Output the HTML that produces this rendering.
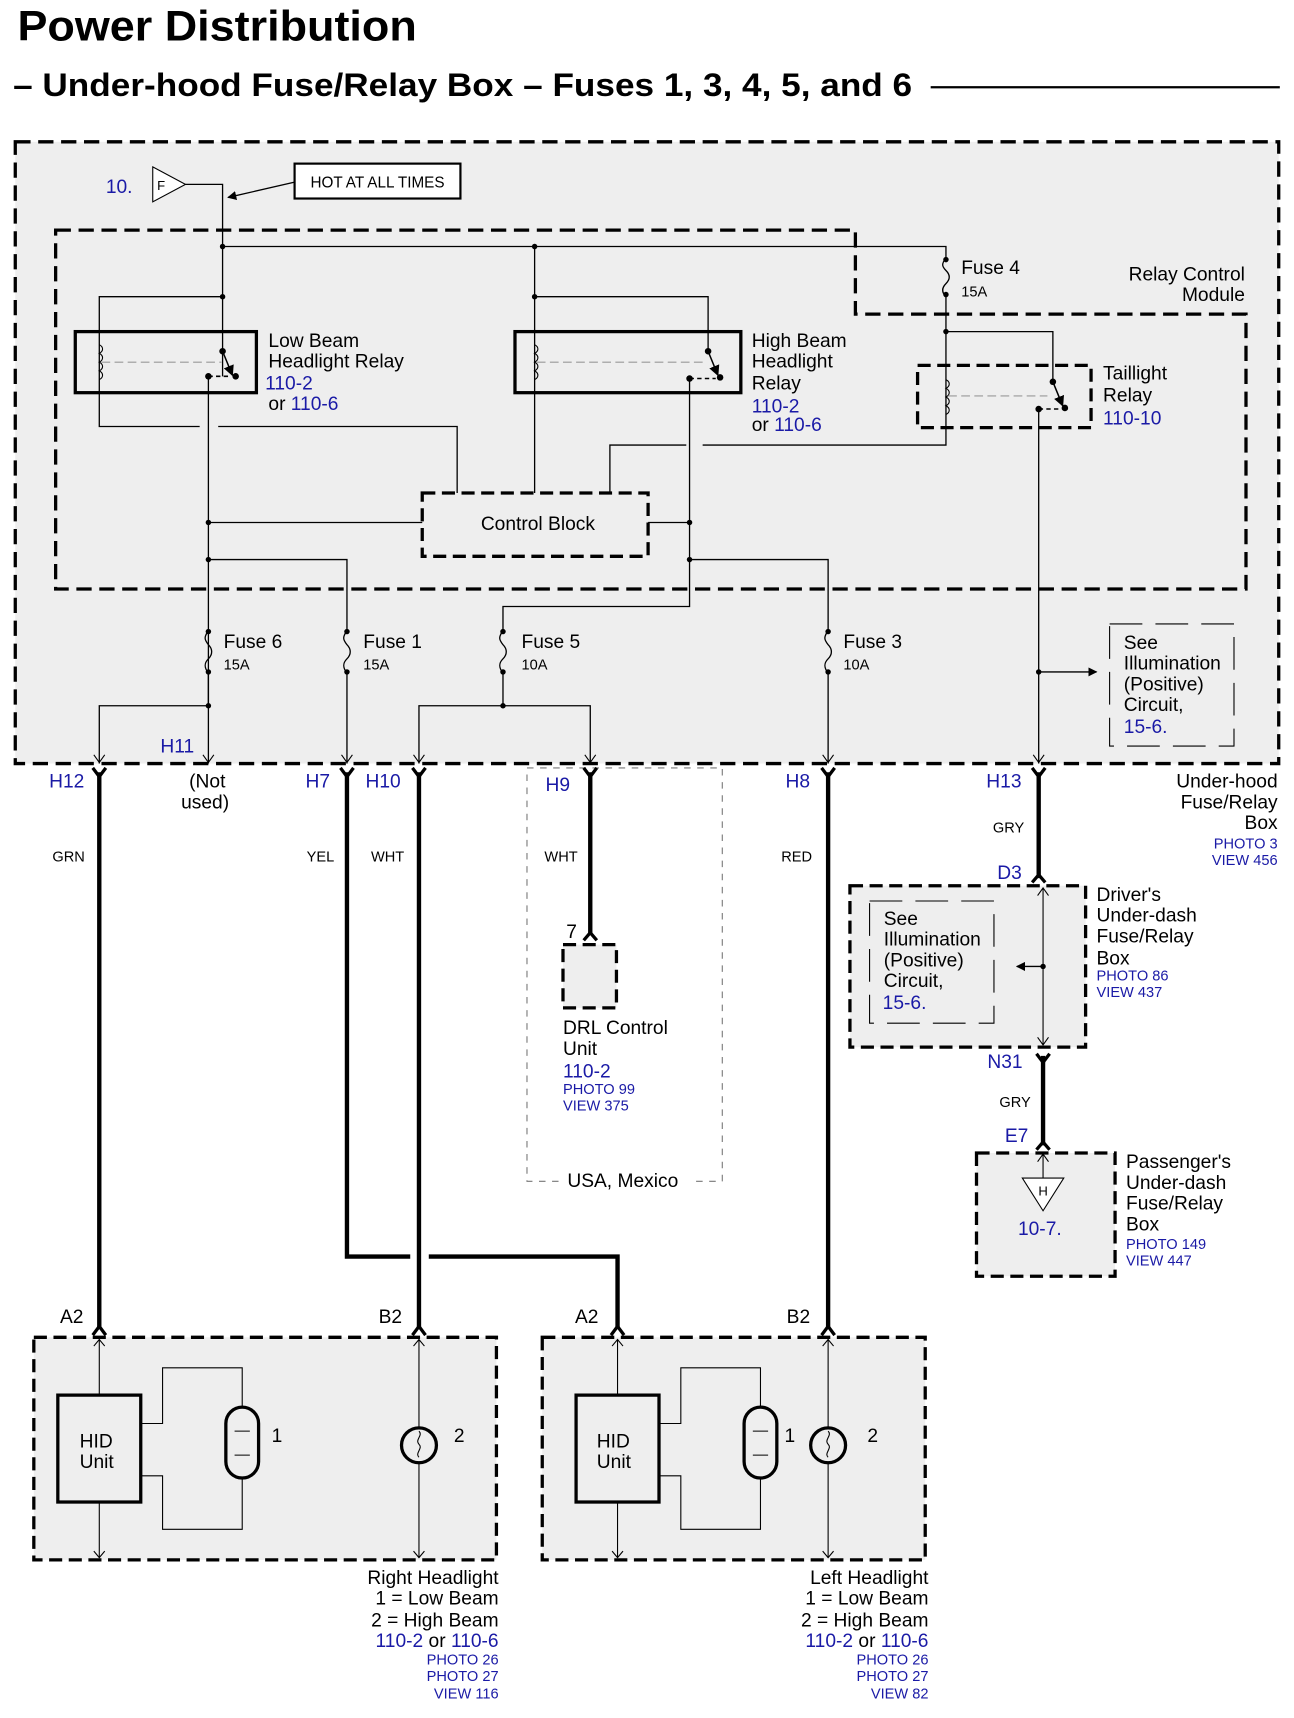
<!DOCTYPE html>
<html><head><meta charset="utf-8"><style>
html,body{margin:0;padding:0;background:#fff}
svg{display:block}
text{font-family:"Liberation Sans",sans-serif;fill:#000}
.b{fill:#1a1aa6}
.t{font-size:17.6px}
.s{font-size:13.4px}
</style></head><body>
<svg width="1294" height="1718" viewBox="0 0 1186 1575" preserveAspectRatio="none" xmlns="http://www.w3.org/2000/svg">
<defs>
<marker id="af" viewBox="0 0 10 10" refX="9" refY="5" markerWidth="7" markerHeight="7" orient="auto"><path d="M0,0 L10,5 L0,10z" fill="#000"/></marker>
</defs>
<text x="16" y="37" style="font-size:39px;font-weight:bold" textLength="366" lengthAdjust="spacingAndGlyphs">Power Distribution</text>
<text x="12" y="88" style="font-size:30px;font-weight:bold" textLength="824" lengthAdjust="spacingAndGlyphs">– Under-hood Fuse/Relay Box – Fuses 1, 3, 4, 5, and 6</text>
<line x1="853" y1="80" x2="1173" y2="80" stroke="#000" stroke-width="2"/>

<rect x="14" y="130" width="1158" height="570" fill="#eeeeee" stroke="#000" stroke-width="3" stroke-dasharray="14,7"/>
<path d="M51,211 H784 V288 H1142 V540 H51 Z" fill="none" stroke="#000" stroke-width="3" stroke-dasharray="14,7"/>
<text x="1141" y="257" class="t" text-anchor="end">Relay Control</text>
<text x="1141" y="276" class="t" text-anchor="end">Module</text>

<path d="M140,153 L170,169 L140,185 Z" fill="#fff" stroke="#000" stroke-width="1"/>
<text x="144" y="174" style="font-size:12px">F</text>
<text x="97" y="177" class="t b">10.</text>
<rect x="270" y="150" width="152" height="32" fill="#fff" stroke="#000" stroke-width="2"/>
<text x="346" y="172" text-anchor="middle" style="font-size:14px">HOT AT ALL TIMES</text>
<line x1="270" y1="167" x2="209" y2="181" stroke="#000" stroke-width="1.2" marker-end="url(#af)"/>

<g fill="none" stroke="#000" stroke-width="1.2">
<path d="M170,169 H204 V345"/>
<path d="M204,226 H867 V236"/>
<path d="M867,272 V408 H644"/><path d="M629,408 H559 V452"/>
<path d="M867,304 H965 V350"/>
<path d="M204,272 H91 V391 H183"/><path d="M200,391 H419 V452"/>
<path d="M191,345 V700"/>
<path d="M191,479 H387"/>
<path d="M191,513 H318 V578"/>
<path d="M318,617 V700"/>
<path d="M490,226 V452"/>
<path d="M490,272 H649 V322"/>
<path d="M632,347 V556 H461 V578"/>
<path d="M594,479 H632"/>
<path d="M632,513 H759 V578"/>
<path d="M759,617 V700"/>
<path d="M461,617 V647"/>
<path d="M384,700 V647 H541 V700"/>
<path d="M191,617 V647 H91 V700"/>
<path d="M952,375 V700"/>
<path d="M952,616 H1005" marker-end="url(#af)"/>
</g>
<g fill="none" stroke="#000" stroke-width="1">
<path d="M86,692 L91,699 L96,692"/><path d="M186,692 L191,699 L196,692"/><path d="M313,692 L318,699 L323,692"/>
<path d="M379,692 L384,699 L389,692"/><path d="M536,692 L541,699 L546,692"/><path d="M754,692 L759,699 L764,692"/><path d="M947,692 L952,699 L957,692"/>
</g>
<g fill="#000">
<circle cx="204" cy="226" r="2.5"/><circle cx="490" cy="226" r="2.5"/><circle cx="204" cy="272" r="2.5"/><circle cx="490" cy="272" r="2.5"/>
<circle cx="867" cy="304" r="2.5"/><circle cx="191" cy="479" r="2.5"/><circle cx="191" cy="513" r="2.5"/><circle cx="632" cy="479" r="2.5"/><circle cx="632" cy="513" r="2.5"/>
<circle cx="191" cy="647" r="2.5"/><circle cx="461" cy="647" r="2.5"/><circle cx="952" cy="616" r="2.5"/>
</g>
<g fill="none" stroke="#000" stroke-width="1.2">
<path d="M867,236 c-4,6 -4,8 0,12 c4,4 4,8 0,12 c-4,4 -4,8 0,12"/>
<path d="M191,578 c-4,6 -4,8 0,13 c4,4 4,9 0,13 c-4,4 -4,8 0,13"/>
<path d="M318,578 c-4,6 -4,8 0,13 c4,4 4,9 0,13 c-4,4 -4,8 0,13"/>
<path d="M461,578 c-4,6 -4,8 0,13 c4,4 4,9 0,13 c-4,4 -4,8 0,13"/>
<path d="M759,578 c-4,6 -4,8 0,13 c4,4 4,9 0,13 c-4,4 -4,8 0,13"/>
</g>
<g fill="#000">
<circle cx="867" cy="238" r="2.5"/><circle cx="867" cy="270" r="2.5"/>
<circle cx="191" cy="579" r="2.5"/><circle cx="191" cy="616" r="2.5"/><circle cx="318" cy="579" r="2.5"/><circle cx="318" cy="616" r="2.5"/>
<circle cx="461" cy="579" r="2.5"/><circle cx="461" cy="616" r="2.5"/><circle cx="759" cy="579" r="2.5"/><circle cx="759" cy="616" r="2.5"/>
</g>
<text x="881" y="251" class="t">Fuse 4</text><text x="881" y="272" class="s">15A</text>
<text x="205" y="594" class="t">Fuse 6</text><text x="205" y="614" class="s">15A</text>
<text x="333" y="594" class="t">Fuse 1</text><text x="333" y="614" class="s">15A</text>
<text x="478" y="594" class="t">Fuse 5</text><text x="478" y="614" class="s">10A</text>
<text x="773" y="594" class="t">Fuse 3</text><text x="773" y="614" class="s">10A</text>

<rect x="69" y="304" width="166" height="56" fill="none" stroke="#000" stroke-width="3"/>
<rect x="472" y="304" width="207" height="56" fill="none" stroke="#000" stroke-width="3"/>
<rect x="841" y="335" width="159" height="57" fill="none" stroke="#000" stroke-width="3" stroke-dasharray="12,6"/>
<g fill="none" stroke="#000" stroke-width="1">
<path d="M91,316 c4,2 4,6 0,8 c4,2 4,6 0,8 c4,2 4,6 0,8 c4,2 4,6 0,8"/>
<path d="M490,316 c4,2 4,6 0,8 c4,2 4,6 0,8 c4,2 4,6 0,8 c4,2 4,6 0,8"/>
<path d="M867,348 c4,2 4,6 0,8 c4,2 4,6 0,8 c4,2 4,6 0,8 c4,2 4,6 0,8"/>
</g>
<g stroke="#999" stroke-width="1" stroke-dasharray="8,4">
<line x1="93" y1="332" x2="203" y2="332"/><line x1="492" y1="332" x2="644" y2="332"/><line x1="869" y1="363" x2="960" y2="363"/>
</g>
<g stroke="#000" stroke-width="1.4" fill="none">
<path d="M204,322 L213,344" marker-end="url(#af)"/><path d="M191,345 H212" stroke-dasharray="4,3"/>
<path d="M649,322 L658,344" marker-end="url(#af)"/><path d="M632,347 H656" stroke-dasharray="4,3"/>
<path d="M965,350 L974,372" marker-end="url(#af)"/><path d="M952,375 H973" stroke-dasharray="4,3"/>
</g>
<g fill="#000">
<circle cx="204" cy="322" r="3"/><circle cx="191" cy="345" r="3"/><circle cx="216" cy="345" r="3"/>
<circle cx="649" cy="322" r="3"/><circle cx="632" cy="347" r="3"/><circle cx="660" cy="346" r="3"/>
<circle cx="965" cy="350" r="3"/><circle cx="952" cy="375" r="3"/><circle cx="976" cy="374" r="3"/>
</g>
<text x="246" y="318" class="t">Low Beam</text><text x="246" y="337" class="t">Headlight Relay</text>
<text x="243" y="357" class="t b">110-2</text><text x="246" y="376" class="t">or <tspan class="b">110-6</tspan></text>
<text x="689" y="318" class="t">High Beam</text><text x="689" y="337" class="t">Headlight</text><text x="689" y="357" class="t">Relay</text>
<text x="689" y="378" class="t b">110-2</text><text x="689" y="395" class="t">or <tspan class="b">110-6</tspan></text>
<text x="1011" y="348" class="t">Taillight</text><text x="1011" y="368" class="t">Relay</text><text x="1011" y="389" class="t b">110-10</text>

<rect x="387" y="452" width="207" height="58" fill="none" stroke="#000" stroke-width="3" stroke-dasharray="12,6"/>
<text x="493" y="486" class="t" text-anchor="middle">Control Block</text>

<rect x="1017" y="572" width="114" height="112" fill="none" stroke="#000" stroke-width="1" stroke-dasharray="30,12"/>
<text x="1030" y="595" class="t">See</text><text x="1030" y="614" class="t">Illumination</text><text x="1030" y="633" class="t">(Positive)</text><text x="1030" y="652" class="t">Circuit,</text><text x="1030" y="672" class="t b">15-6.</text>

<text x="45" y="722" class="t b">H12</text><text x="147" y="690" class="t b">H11</text>
<text x="190" y="722" class="t" text-anchor="middle">(Not</text><text x="188" y="741" class="t" text-anchor="middle">used)</text>
<text x="280" y="722" class="t b">H7</text><text x="335" y="722" class="t b">H10</text>
<text x="500" y="725" class="t b">H9</text><text x="720" y="722" class="t b">H8</text><text x="904" y="722" class="t b">H13</text>
<text x="1171" y="722" class="t" text-anchor="end">Under-hood</text><text x="1171" y="741" class="t" text-anchor="end">Fuse/Relay</text><text x="1171" y="760" class="t" text-anchor="end">Box</text>
<text x="1171" y="778" class="s b" text-anchor="end">PHOTO 3</text><text x="1171" y="793" class="s b" text-anchor="end">VIEW 456</text>

<rect x="483" y="704" width="179" height="379" fill="none" stroke="#777" stroke-width="1" stroke-dasharray="6,6"/>
<rect x="512" y="1072" width="124" height="22" fill="#fff"/>
<text x="520" y="1088" class="t">USA, Mexico</text>

<g fill="none" stroke="#000" stroke-width="4">
<path d="M91,708 V1218"/>
<path d="M318,708 V1152 H376"/><path d="M393,1152 H566 V1218"/>
<path d="M384,708 V1218"/>
<path d="M541,708 V856"/>
<path d="M759,708 V1218"/>
<path d="M952,708 V805"/>
<path d="M956,968 V1050"/>
</g>
<g fill="none" stroke="#000" stroke-width="3">
<path d="M85,704 L91,712 L97,704"/><path d="M312,704 L318,712 L324,704"/><path d="M378,704 L384,712 L390,704"/>
<path d="M535,704 L541,712 L547,704"/><path d="M753,704 L759,712 L765,704"/><path d="M946,704 L952,712 L958,704"/>
<path d="M950,966 L956,974 L962,966"/>
<path d="M535,862 L541,855 L547,862"/><path d="M946,809 L952,802 L958,809"/><path d="M950,1054 L956,1047 L962,1054"/>
<path d="M85,1224 L91,1216 L97,1224"/><path d="M378,1224 L384,1216 L390,1224"/><path d="M560,1224 L566,1216 L572,1224"/><path d="M753,1224 L759,1216 L765,1224"/>
</g>
<text x="48" y="790" class="s">GRN</text><text x="281" y="790" class="s">YEL</text><text x="340" y="790" class="s">WHT</text>
<text x="499" y="790" class="s">WHT</text><text x="716" y="790" class="s">RED</text><text x="910" y="763" class="s">GRY</text>

<rect x="516" y="866" width="49" height="58" fill="#eee" stroke="#000" stroke-width="3" stroke-dasharray="12,6"/>
<text x="519" y="860" class="t">7</text>
<text x="516" y="948" class="t">DRL Control</text><text x="516" y="967" class="t">Unit</text><text x="516" y="988" class="t b">110-2</text>
<text x="516" y="1003" class="s b">PHOTO 99</text><text x="516" y="1018" class="s b">VIEW 375</text>

<rect x="779" y="812" width="216" height="148" fill="#eee" stroke="#000" stroke-width="3" stroke-dasharray="12,6"/>
<rect x="797" y="826" width="114" height="112" fill="none" stroke="#000" stroke-width="1" stroke-dasharray="30,12"/>
<text x="810" y="848" class="t">See</text><text x="810" y="867" class="t">Illumination</text><text x="810" y="886" class="t">(Positive)</text><text x="810" y="905" class="t">Circuit,</text><text x="809" y="925" class="t b">15-6.</text>
<g fill="none" stroke="#000" stroke-width="1">
<path d="M956,814 V958"/><path d="M951,821 L956,814 L961,821"/><path d="M951,951 L956,958 L961,951"/>
</g>
<path d="M956,886 H932" stroke="#000" stroke-width="1.2" marker-end="url(#af)"/><circle cx="956" cy="886" r="2.5"/>
<text x="914" y="806" class="t b">D3</text><text x="905" y="979" class="t b">N31</text><text x="916" y="1015" class="s">GRY</text><text x="921" y="1047" class="t b">E7</text>
<text x="1005" y="826" class="t">Driver's</text><text x="1005" y="845" class="t">Under-dash</text><text x="1005" y="864" class="t">Fuse/Relay</text><text x="1005" y="884" class="t">Box</text>
<text x="1005" y="899" class="s b">PHOTO 86</text><text x="1005" y="914" class="s b">VIEW 437</text>

<rect x="895" y="1057" width="127" height="113" fill="#eee" stroke="#000" stroke-width="3" stroke-dasharray="12,6"/>
<path d="M956,1058 V1080" stroke="#000" stroke-width="1"/><path d="M951,1065 L956,1058 L961,1065" fill="none" stroke="#000"/>
<path d="M937,1080 L975,1080 L956,1110 Z" fill="#fff" stroke="#000" stroke-width="1"/>
<text x="956" y="1096" text-anchor="middle" style="font-size:12px">H</text>
<text x="933" y="1132" class="t b">10-7.</text>
<text x="1032" y="1071" class="t">Passenger's</text><text x="1032" y="1090" class="t">Under-dash</text><text x="1032" y="1109" class="t">Fuse/Relay</text><text x="1032" y="1128" class="t">Box</text>
<text x="1032" y="1145" class="s b">PHOTO 149</text><text x="1032" y="1160" class="s b">VIEW 447</text>

<text x="55" y="1213" class="t">A2</text><text x="347" y="1213" class="t">B2</text><text x="527" y="1213" class="t">A2</text><text x="721" y="1213" class="t">B2</text>
<rect x="31" y="1226" width="424" height="204" fill="#eee" stroke="#000" stroke-width="3" stroke-dasharray="12,6"/>
<rect x="497" y="1226" width="351" height="204" fill="#eee" stroke="#000" stroke-width="3" stroke-dasharray="12,6"/>
<g fill="none" stroke="#000" stroke-width="1">
<path d="M91,1228 V1279 M91,1377 V1428"/><path d="M86,1234 L91,1228 L96,1234 M86,1422 L91,1428 L96,1422"/>
<path d="M129,1305 H149 V1254 H222 V1290 M222,1355 V1402 H149 V1353 H129"/>
<path d="M384,1228 V1308 M384,1342 V1428"/><path d="M379,1234 L384,1228 L389,1234 M379,1422 L384,1428 L389,1422"/>
<path d="M566,1228 V1279 M566,1377 V1428"/><path d="M561,1234 L566,1228 L571,1234 M561,1422 L566,1428 L571,1422"/>
<path d="M604,1305 H624 V1254 H697 V1290 M697,1355 V1402 H624 V1353 H604"/>
<path d="M759,1228 V1308 M759,1342 V1428"/><path d="M754,1234 L759,1228 L764,1234 M754,1422 L759,1428 L764,1422"/>
<path d="M215,1312 H229 M215,1334 H229 M690,1312 H704 M690,1334 H704"/>
<path d="M384,1312 c4,4 -4,8 0,12 c4,4 -4,8 0,12 M759,1312 c4,4 -4,8 0,12 c4,4 -4,8 0,12"/>
</g>
<rect x="53" y="1279" width="76" height="98" fill="#eee" stroke="#000" stroke-width="3"/>
<rect x="528" y="1279" width="76" height="98" fill="#eee" stroke="#000" stroke-width="3"/>
<rect x="207" y="1290" width="30" height="65" rx="15" fill="none" stroke="#000" stroke-width="3"/>
<rect x="682" y="1290" width="30" height="65" rx="15" fill="none" stroke="#000" stroke-width="3"/>
<circle cx="384" cy="1325" r="16" fill="none" stroke="#000" stroke-width="3"/>
<circle cx="759" cy="1325" r="16" fill="none" stroke="#000" stroke-width="3"/>
<text x="73" y="1327" class="t">HID</text><text x="73" y="1346" class="t">Unit</text>
<text x="547" y="1327" class="t">HID</text><text x="547" y="1346" class="t">Unit</text>
<text x="249" y="1322" class="t">1</text><text x="416" y="1322" class="t">2</text>
<text x="719" y="1322" class="t">1</text><text x="795" y="1322" class="t">2</text>

<g text-anchor="end">
<text x="457" y="1452" class="t">Right Headlight</text><text x="457" y="1471" class="t">1 = Low Beam</text><text x="457" y="1491" class="t">2 = High Beam</text>
<text x="457" y="1510" class="t"><tspan class="b">110-2</tspan> or <tspan class="b">110-6</tspan></text>
<text x="457" y="1526" class="s b">PHOTO 26</text><text x="457" y="1541" class="s b">PHOTO 27</text><text x="457" y="1557" class="s b">VIEW 116</text>
<text x="851" y="1452" class="t">Left Headlight</text><text x="851" y="1471" class="t">1 = Low Beam</text><text x="851" y="1491" class="t">2 = High Beam</text>
<text x="851" y="1510" class="t"><tspan class="b">110-2</tspan> or <tspan class="b">110-6</tspan></text>
<text x="851" y="1526" class="s b">PHOTO 26</text><text x="851" y="1541" class="s b">PHOTO 27</text><text x="851" y="1557" class="s b">VIEW 82</text>
</g>
</svg>
</body></html>
